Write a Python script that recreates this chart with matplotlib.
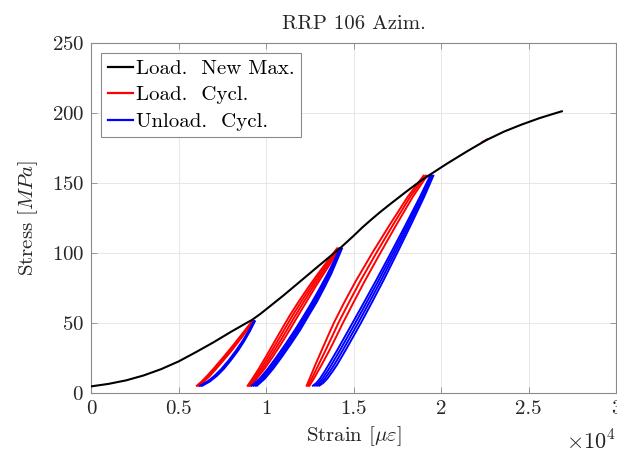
import matplotlib
matplotlib.use("Agg")
import matplotlib.pyplot as plt
from matplotlib.lines import Line2D

plt.rcParams.update({
    "font.family": ["cmr10", "DejaVu Serif"],
    "mathtext.fontset": "cm",
    "axes.formatter.use_mathtext": True,
    "axes.unicode_minus": False,
    "font.size": 15,
})

# ---------------- data (strain in units of 1e4 micro-strain, stress in MPa) -------------
title = "RRP 106 Azim."
x_ticks = [0, 0.5, 1, 1.5, 2, 2.5, 3]
x_tick_labels = ["0", "0.5", "1", "1.5", "2", "2.5", "3"]
y_ticks = [0, 50, 100, 150, 200, 250]
legend_labels = ["Load.  New Max.", "Load.  Cycl.", "Unload.  Cycl."]

# envelope (loading to new maximum)
env_strain = [0, 0.1, 0.2, 0.3, 0.4, 0.5, 0.6, 0.7, 0.8, 0.87, 0.92, 0.97, 1.05, 1.1,
              1.2, 1.3, 1.43, 1.5, 1.55, 1.6, 1.65, 1.7, 1.8, 1.88, 1.95, 2.03, 2.15,
              2.26, 2.36, 2.46, 2.56, 2.65, 2.69]
env_stress = [4.5, 6.3, 8.8, 12.3, 16.8, 22.3, 29.0, 36.0, 43.5, 48.5, 52.0, 56.5, 64.5,
              69.5, 80.0, 90.5, 104.0, 112.0, 118.0, 123.5, 128.8, 133.8, 143.5, 151.0,
              156.8, 163.3, 172.5, 180.5, 186.5, 191.5, 196.0, 199.5, 201.0]

# cycle set 1 (peak ~51 MPa)
c1_stress = [5, 8, 12, 17, 23, 30, 37, 44, 51]
c1_load = [
    [0.605, 0.632, 0.663, 0.699, 0.740, 0.787, 0.832, 0.876, 0.920],
    [0.611, 0.639, 0.671, 0.707, 0.748, 0.795, 0.839, 0.882, 0.924],
    [0.617, 0.646, 0.679, 0.715, 0.756, 0.803, 0.846, 0.888, 0.928],
]
c1_unload = [
    [0.622, 0.665, 0.705, 0.745, 0.786, 0.828, 0.866, 0.900, 0.930],
    [0.629, 0.672, 0.712, 0.752, 0.792, 0.834, 0.871, 0.904, 0.933],
    [0.636, 0.679, 0.719, 0.759, 0.798, 0.840, 0.876, 0.908, 0.936],
]

# cycle set 2 (peak ~103 MPa)
c2_stress = [5, 10, 17, 25, 35, 45, 55, 65, 75, 85, 95, 103]
c2_load = [
    [0.895, 0.922, 0.958, 0.996, 1.042, 1.088, 1.135, 1.186, 1.240, 1.297, 1.357, 1.405],
    [0.901, 0.930, 0.969, 1.009, 1.057, 1.104, 1.151, 1.201, 1.253, 1.308, 1.365, 1.411],
    [0.907, 0.938, 0.980, 1.022, 1.072, 1.120, 1.167, 1.216, 1.266, 1.319, 1.373, 1.417],
    [0.913, 0.946, 0.991, 1.035, 1.087, 1.136, 1.183, 1.231, 1.279, 1.330, 1.381, 1.423],
]
c2_unload = [
    [0.918, 0.963, 1.010, 1.057, 1.113, 1.166, 1.216, 1.264, 1.309, 1.352, 1.392, 1.422],
    [0.928, 0.973, 1.020, 1.067, 1.123, 1.176, 1.225, 1.273, 1.317, 1.359, 1.397, 1.426],
    [0.938, 0.983, 1.030, 1.077, 1.133, 1.186, 1.234, 1.282, 1.325, 1.366, 1.402, 1.430],
    [0.948, 0.993, 1.040, 1.087, 1.143, 1.196, 1.243, 1.291, 1.333, 1.373, 1.407, 1.434],
]

# cycle set 3 (peak ~155 MPa)
c3_load_stress = [5, 10, 20, 30, 40, 50, 65, 80, 100, 120, 140, 155]
c3_load = [
    [1.232, 1.249, 1.282, 1.317, 1.352, 1.388, 1.449, 1.514, 1.608, 1.707, 1.810, 1.900],
    [1.240, 1.261, 1.300, 1.339, 1.377, 1.414, 1.476, 1.540, 1.631, 1.726, 1.824, 1.910],
    [1.248, 1.273, 1.318, 1.361, 1.401, 1.440, 1.502, 1.565, 1.654, 1.745, 1.839, 1.920],
]
c3_unload_stress = [5, 7, 10, 15, 20, 30, 40, 50, 65, 80, 100, 120, 140, 155]
c3_unload = [
    [1.268, 1.288, 1.308, 1.334, 1.358, 1.405, 1.450, 1.495, 1.562, 1.628, 1.714, 1.798, 1.880, 1.938],
    [1.280, 1.301, 1.322, 1.349, 1.374, 1.421, 1.466, 1.511, 1.577, 1.642, 1.726, 1.808, 1.888, 1.944],
    [1.292, 1.314, 1.336, 1.364, 1.390, 1.437, 1.482, 1.527, 1.592, 1.656, 1.738, 1.818, 1.896, 1.950],
    [1.304, 1.327, 1.350, 1.379, 1.406, 1.453, 1.498, 1.543, 1.607, 1.670, 1.750, 1.828, 1.904, 1.956],
]

# tiny loading fragment on the envelope near 2.25e4
frag_strain = [2.235, 2.265]
frag_stress = [179.0, 181.0]

# ---------------- plot -------------------------------------------------------------------
fig = plt.figure(figsize=(6.17, 4.57), dpi=100)
ax = fig.add_axes([0.1475, 0.1407, 0.851, 0.7659])

lw = 1.4
sets = [(c1_stress, c1_load, c1_stress, c1_unload),
        (c2_stress, c2_load, c2_stress, c2_unload),
        (c3_load_stress, c3_load, c3_unload_stress, c3_unload)]
for ls, loads, us, unloads in sets:
    for ld in loads:
        ax.plot(ld, ls, color="#ff0000", lw=lw, zorder=3, solid_joinstyle="round")
    for ul in unloads:
        ax.plot(ul, us, color="#0000ff", lw=lw, zorder=4, solid_joinstyle="round")

ax.plot(frag_strain, frag_stress, color="#ff0000", lw=lw, zorder=3)
ax.plot(env_strain, env_stress, color="black", lw=1.5, zorder=5, solid_joinstyle="round")

ax.set_xlim(0, 3)
ax.set_ylim(0, 250)
ax.set_xticks(x_ticks)
ax.set_xticklabels(x_tick_labels)
ax.set_yticks(y_ticks)

axis_col = "#262626"
ax.grid(True, color="#e3e3e3", lw=0.6)
ax.set_axisbelow(True)
for s in ax.spines.values():
    s.set_color("#8a8a8a")
    s.set_linewidth(0.8)
ax.tick_params(direction="in", length=4, width=0.6, color="#8a8a8a",
               top=True, right=True, labelcolor=axis_col, labelsize=15, pad=5)

ax.set_title(title, fontsize=15, color=axis_col, pad=10)
ax.set_ylabel(r"Stress $[MPa]$", fontsize=15, color=axis_col, labelpad=8)
ax.set_xlabel(r"Strain $[\mu\varepsilon]$", fontsize=15, color=axis_col, labelpad=5)
ax.text(1.0, -0.105, r"$\times 10^4$", transform=ax.transAxes, ha="right", va="top",
        fontsize=16, color=axis_col, clip_on=False)

handles = [Line2D([], [], color="black", lw=1.6),
           Line2D([], [], color="#ff0000", lw=1.6),
           Line2D([], [], color="#0000ff", lw=1.6)]
leg = ax.legend(handles, legend_labels, loc="upper left", fontsize=15,
                handlelength=1.2, handletextpad=0.15, borderpad=0.3,
                labelspacing=0.38, fancybox=False, framealpha=1,
                edgecolor="#8a8a8a", borderaxespad=0.5)
leg.get_frame().set_linewidth(0.8)

fig.savefig("out.png", dpi=100)
